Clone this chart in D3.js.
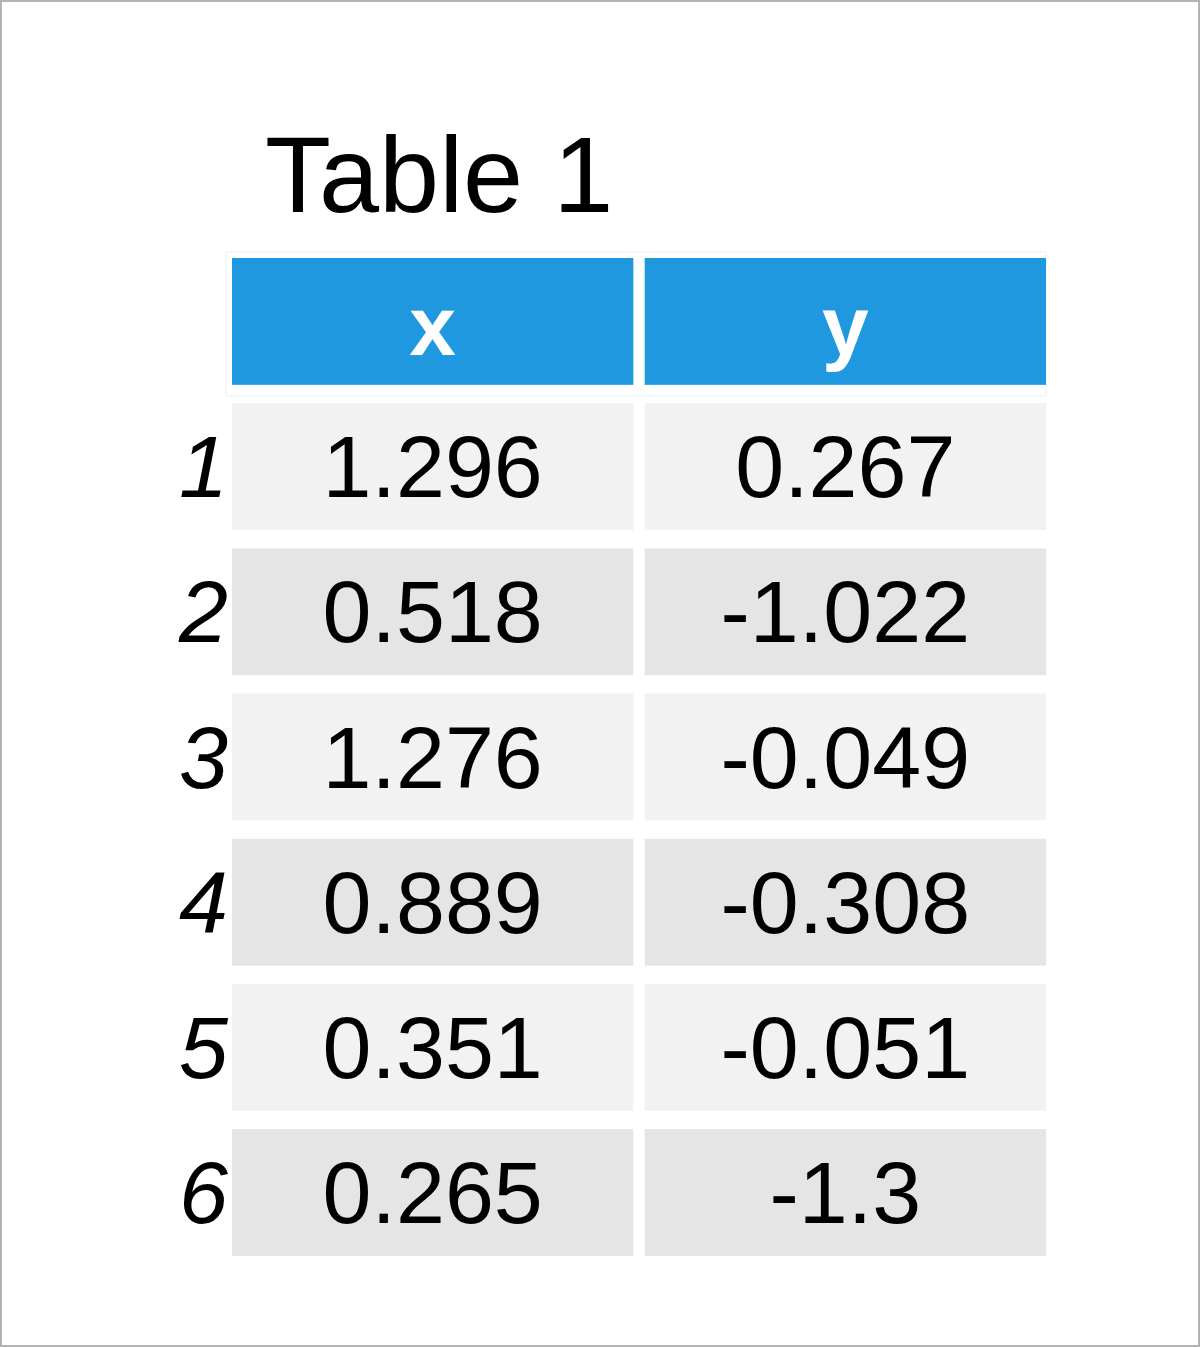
<!DOCTYPE html>
<html><head><meta charset="utf-8">
<script src="https://cdn.jsdelivr.net/npm/d3@7"></script>
<style>body{margin:0;background:#fff}</style>
</head><body>
<svg id="c" width="1200" height="1347"></svg>
<script>
// table content
var title = 'Table 1';
var columns = ['x', 'y'];
var rowLabels = ['1', '2', '3', '4', '5', '6'];
var xValues = ['1.296', '0.518', '1.276', '0.889', '0.351', '0.265'];
var yValues = ['0.267', '-1.022', '-0.049', '-0.308', '-0.051', '-1.3'];

var svg = d3.select('#c');
var font = 'Liberation Sans, Arial, sans-serif';

svg.append('rect').attr('x', 1).attr('y', 1).attr('width', 1198).attr('height', 1345)
   .attr('fill', '#fff').attr('stroke', '#b3b3b3').attr('stroke-width', 2);

var col = d3.scaleBand().domain(columns).range([226, 1046]).paddingInner(0.013);
var row = d3.scaleBand().domain(['h'].concat(rowLabels)).range([252, 1256]).paddingInner(0.085);

svg.append('text').text(title).attr('x', 265).attr('y', 212)
   .attr('font-family', font).attr('font-size', 108).attr('fill', '#000');

svg.append('rect').attr('x', 226).attr('y', 252).attr('width', 820).attr('height', 144)
   .attr('fill', 'none').attr('stroke', '#e6f2fa').attr('stroke-width', 1);

var hdr = svg.append('g');
columns.forEach(function (c) {
  hdr.append('rect').attr('x', col(c) + 6).attr('y', row('h') + 6)
     .attr('width', col.bandwidth() - 6).attr('height', row.bandwidth() - 6).attr('fill', '#1f98df');
  hdr.append('text').text(c).attr('x', col(c) + 3 + col.bandwidth() / 2).attr('y', row('h') + 103)
     .attr('text-anchor', 'middle').attr('font-family', font).attr('font-weight', 'bold')
     .attr('font-size', 84).attr('fill', '#fff');
});

rowLabels.forEach(function (r, i) {
  var fill = i % 2 === 0 ? '#f2f2f2' : '#e5e5e5';
  var vals = [xValues[i], yValues[i]];
  columns.forEach(function (c, j) {
    svg.append('rect').attr('x', col(c) + 6).attr('y', row(r) + 6)
       .attr('width', col.bandwidth() - 6).attr('height', row.bandwidth() - 6).attr('fill', fill);
    svg.append('text').text(vals[j]).attr('x', col(c) + 3 + col.bandwidth() / 2).attr('y', row(r) + 100)
       .attr('text-anchor', 'middle').attr('font-family', font).attr('font-size', 88).attr('fill', '#000');
  });
  svg.append('text').text(r).attr('x', 228).attr('y', row(r) + 100)
     .attr('text-anchor', 'end').attr('font-family', font).attr('font-style', 'italic')
     .attr('font-size', 88).attr('fill', '#000');
});
</script>
</body></html>
